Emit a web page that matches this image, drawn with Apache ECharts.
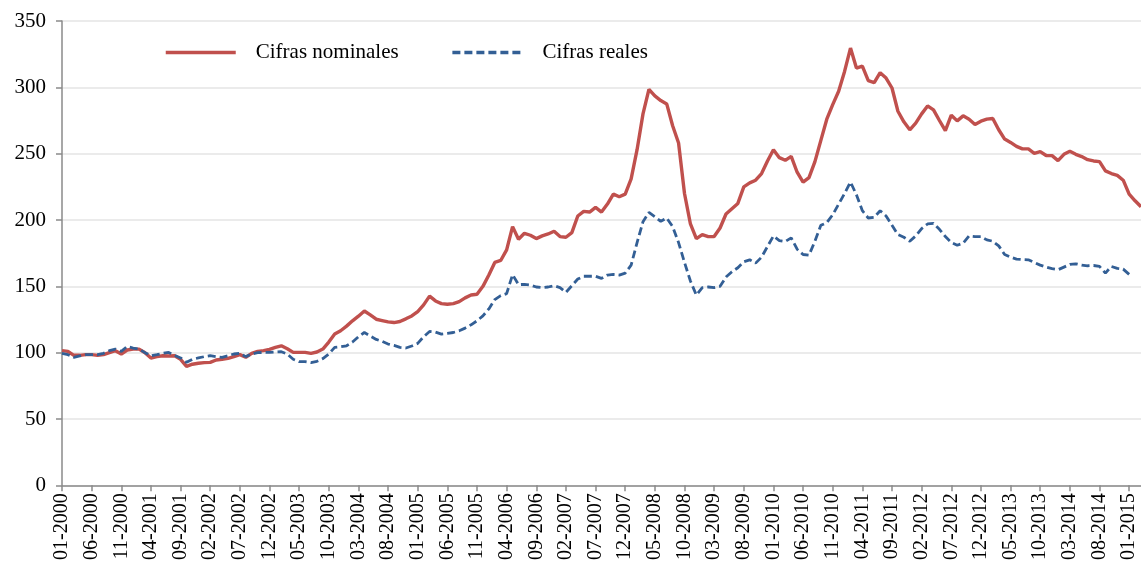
<!DOCTYPE html>
<html>
<head>
<meta charset="utf-8">
<script src="https://cdn.jsdelivr.net/npm/echarts@6/dist/echarts.min.js"></script>
<style>
  html, body { margin: 0; padding: 0; background: #fff; }
  #chart { width: 1141px; height: 563px; }
</style>
</head>
<body>
<div id="chart"></div>
<script>
// Monthly index (01-2000 = 100), nominal vs real figures

const START_YEAR = 2000;
const MONTH_COUNT = 183; // 01-2000 .. 03-2015

const SERIES_NAMES = ['Cifras nominales', 'Cifras reales'];

const Y_TICKS = [0, 50, 100, 150, 200, 250, 300, 350];

const nominal = [
  101.5, 101, 98, 98, 98.5, 98.5, 98, 98.5, 100, 101.5, 99, 102,
  102.7, 102.7, 100, 96, 97, 97.7, 97.5, 97.7, 95, 89.7, 91.3, 92,
  92.5, 92.7, 94.5, 95, 95.7, 97, 98.5, 96.5, 99.5, 101, 101.5, 102.5,
  104, 105.2, 103, 100.2, 100.2, 100.2, 99.5, 100.5, 102.7, 108, 114, 116.5,
  120, 124, 127.5, 131.4, 128.5, 125.2, 124.2, 123.2, 122.7, 123.5, 125.5, 127.7,
  131, 136, 142.6, 139, 137, 136.5, 137, 138.5, 141.3, 143.5, 144, 150,
  158.5, 168, 169.5, 177.5, 195, 185.5, 190, 188.5, 186, 188, 189.5, 191.5,
  187.5, 187, 190.5, 203, 206.5, 206, 209.5, 206, 212, 219.5, 217.5, 219.5,
  231, 253, 280, 298.4, 293.5, 290, 287.5, 271, 258, 220, 197, 186,
  189, 187.5, 187.5, 194, 204.5, 208.5, 212.5, 225, 228, 230, 235, 244.5,
  253, 247, 245, 248, 236, 228.5, 232, 244, 260, 276, 287, 297,
  312, 329.6, 314.5, 316, 305, 303.5, 311, 307, 299.5, 282, 274, 268,
  273, 280, 286, 283, 275, 267.3, 279, 274.7, 278.5, 276, 272, 274.5,
  276, 276.5, 268, 261, 258.5, 255.5, 253.6, 253.6, 250.3, 251.6, 248.6, 248.5,
  244.8, 249.5, 251.8, 249.5, 247.8, 245.5, 244.5, 244, 237, 235, 233.6, 230,
  219.5, 214.5, 210
];

const real = [
  99.5, 98.5, 96.5, 97.5, 98.5, 98.5, 98.5, 99.5, 101.5, 102.7, 101, 104.7,
  103.5, 102.7, 100, 97.7, 98.5, 99.5, 100.2, 98, 96, 92.7, 95, 96,
  97, 97.7, 97, 96.5, 97.7, 99, 99.5, 97, 99, 100, 100.2, 100.2,
  100.5, 100.7, 99, 95, 93.2, 93.2, 92.5, 93.5, 95.5, 99, 104, 104.5,
  105.2, 108, 112, 115.2, 112.5, 110, 108.5, 106.5, 105.5, 104, 103.5, 105,
  107, 112, 116, 115.5, 114, 114.5, 115.2, 116.5, 118.5, 121, 124, 127.7,
  133, 140, 143, 144.5, 158.8, 151.3, 151.5, 151, 149.5, 149, 149.5, 150.5,
  149, 145.5, 150.5, 155.5, 157.6, 157.6, 157.6, 156, 158.5, 159, 158.5, 160,
  166, 183, 198.7, 205.7, 202.5, 199, 201.5, 195, 183, 168, 154, 143.4,
  149, 149.5, 149, 150, 157, 161, 164, 168.5, 170, 167.5, 172, 180,
  188, 184.5, 183.8, 186.5, 178, 174, 173.5, 184, 196, 198, 204, 212,
  220, 228.6, 219, 207, 201.5, 202, 207, 203, 196, 189, 187, 184,
  188, 193.5, 197, 197.5, 193, 187.5, 183, 181, 182.5, 188, 187.5, 187.5,
  185, 184, 180.5, 174, 172, 170.5, 170.2, 170, 168, 166, 164.5, 163.3,
  162.5, 164.5, 166.5, 167, 166, 165.5, 165.7, 165, 160, 165, 163.5, 163,
  159
];

// month labels "MM-YYYY"
const categories = [];
for (let i = 0; i < MONTH_COUNT; i++) {
  const m = (i % 12) + 1;
  const y = START_YEAR + Math.floor(i / 12);
  categories.push((m < 10 ? '0' + m : '' + m) + '-' + y);
}

const SERIF = 'Liberation Serif, Times New Roman, serif';
const RED = '#c0504d';
const BLUE = '#335f95';

const chart = echarts.init(document.getElementById('chart'), null, { renderer: 'canvas' });

chart.setOption({
  backgroundColor: '#fff',
  animation: false,
  grid: { left: 62, right: 0, top: 21, bottom: 74, containLabel: false },
  legend: {
    left: 159,
    top: 37,
    itemWidth: 70,
    itemHeight: 14,
    itemGap: 52,
    itemStyle: { color: 'transparent', borderColor: 'transparent', borderWidth: 0 },
    lineStyle: { width: 3.5 },
    textStyle: { fontFamily: SERIF, fontSize: 21, color: '#000', padding: [0, 0, 0, 15] },
    data: SERIES_NAMES
  },
  xAxis: {
    type: 'category',
    data: categories,
    boundaryGap: false,
    axisLine: { lineStyle: { color: '#8a8a8a', width: 1.5 } },
    axisTick: { show: true, interval: 4, length: 6, lineStyle: { color: '#8a8a8a', width: 1.5 } },
    axisLabel: {
      interval: 4,
      rotate: 90,
      margin: 8,
      fontFamily: SERIF,
      fontSize: 20,
      color: '#000'
    },
    splitLine: { show: false }
  },
  yAxis: {
    type: 'value',
    min: Y_TICKS[0],
    max: Y_TICKS[Y_TICKS.length - 1],
    interval: Y_TICKS[1] - Y_TICKS[0],
    axisLine: { show: true, lineStyle: { color: '#8a8a8a', width: 1.5 } },
    axisTick: { show: true, length: 6, lineStyle: { color: '#8a8a8a', width: 1.5 } },
    axisLabel: { margin: 16, fontFamily: SERIF, fontSize: 21, color: '#000' },
    splitLine: { show: true, lineStyle: { color: '#ebebeb', width: 2 } }
  },
  series: [
    {
      name: SERIES_NAMES[0],
      type: 'line',
      data: nominal,
      symbol: 'none',
      lineStyle: { color: RED, width: 3.4 },
      itemStyle: { color: RED },
      z: 3
    },
    {
      name: SERIES_NAMES[1],
      type: 'line',
      data: real,
      symbol: 'none',
      lineStyle: { color: BLUE, width: 2.8, type: [8, 4] },
      itemStyle: { color: BLUE },
      z: 4
    }
  ]
});
</script>
</body>
</html>
